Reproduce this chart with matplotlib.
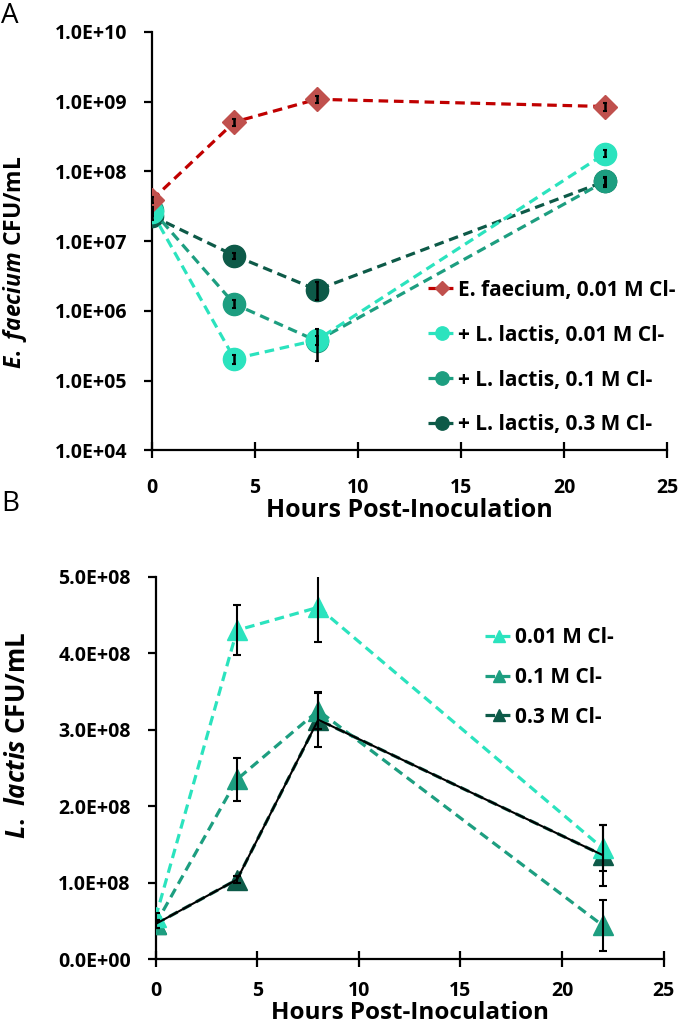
import numpy as np
import matplotlib
matplotlib.use("Agg")
import matplotlib.pyplot as plt

plt.rcParams['font.family'] = ['Open Sans', 'DejaVu Sans']
plt.rcParams['mathtext.fontset'] = 'custom'
plt.rcParams['mathtext.it'] = 'Open Sans:italic:bold'
plt.rcParams['mathtext.rm'] = 'Open Sans:bold'

hours = [0, 4, 8, 22]

# panel A: E. faecium CFU/mL (log scale)
ef_alone = [3.9e7, 5.1e8, 1.08e9, 8.5e8]
ef_alone_err = [4e6, 6e7, 1.3e8, 1.1e8]
ef_ll_001 = [2.6e7, 2.05e5, 3.8e5, 1.8e8]
ef_ll_001_err = [3e6, 3e4, 6e4, 2.2e7]
ef_ll_01 = [2.8e7, 1.25e6, 3.7e5, 7.2e7]
ef_ll_01_err = [3e6, 1.6e5, 1.8e5, 9e6]
ef_ll_03 = [2.3e7, 6.2e6, 2.0e6, 7.2e7]
ef_ll_03_err = [3e6, 6e5, 5.5e5, 1.2e7]
labels_a = ["E. faecium, 0.01 M Cl-", "+ L. lactis, 0.01 M Cl-",
            "+ L. lactis, 0.1 M Cl-", "+ L. lactis, 0.3 M Cl-"]
yticks_a = [1e4, 1e5, 1e6, 1e7, 1e8, 1e9, 1e10]
yticklabels_a = ["1.0E+04", "1.0E+05", "1.0E+06", "1.0E+07", "1.0E+08", "1.0E+09", "1.0E+10"]

# panel B: L. lactis CFU/mL
ll_001 = [5.5e7, 4.3e8, 4.6e8, 1.45e8]
ll_001_err = [5e6, 3.3e7, 4.6e7, 3e7]
ll_01 = [4.6e7, 2.35e8, 3.25e8, 4.4e7]
ll_01_err = [5e6, 2.8e7, 2.4e7, 3.3e7]
ll_03 = [4.6e7, 1.04e8, 3.13e8, 1.36e8]
ll_03_err = [5e6, 5e6, 3.5e7, 4e7]
labels_b = ["0.01 M Cl-", "0.1 M Cl-", "0.3 M Cl-"]
yticks_b = [0, 1e8, 2e8, 3e8, 4e8, 5e8]
yticklabels_b = ["0.0E+00", "1.0E+08", "2.0E+08", "3.0E+08", "4.0E+08", "5.0E+08"]
xticks = [0, 5, 10, 15, 20, 25]

c_red_line = '#C00000'
c_red_mark = '#C0504D'
c_light = '#2BE3BE'
c_mid = '#1D9E80'
c_dark = '#0D5A48'

fig = plt.figure(figsize=(6.8, 10.28), dpi=100)
axA = fig.add_axes([0.2235, 0.562, 0.7575, 0.407])
axB = fig.add_axes([0.229, 0.067, 0.747, 0.372])

def style_axis(ax, xpad=14):
    for s in ['top', 'right']:
        ax.spines[s].set_visible(False)
    for s in ['left', 'bottom']:
        ax.spines[s].set_linewidth(1.6)
    ax.tick_params(axis='y', direction='out', length=6, width=1.6, pad=12, labelsize=14)
    ax.tick_params(axis='x', direction='inout', length=12, width=1.6, pad=xpad, labelsize=14)
    ax.tick_params(which='minor', length=0)
    for lab in ax.get_xticklabels() + ax.get_yticklabels():
        lab.set_fontweight('bold')

dash = (3, 1.8)

# ---- Panel A
series_a = [(ef_alone, ef_alone_err, c_red_line, c_red_mark, 'D', 12.5),
            (ef_ll_001, ef_ll_001_err, c_light, c_light, 'o', 16),
            (ef_ll_01, ef_ll_01_err, c_mid, c_mid, 'o', 16),
            (ef_ll_03, ef_ll_03_err, c_dark, c_dark, 'o', 16)]
order = [3, 2, 1, 0]
for i in order:
    y, e, lc, mc, m, ms = series_a[i]
    axA.plot(hours, y, color=lc, lw=2.3, dashes=dash, marker=m, markersize=ms,
             markerfacecolor=mc, markeredgecolor=mc, label=labels_a[i], zorder=3 + (3 - i) * 0.1)
    axA.errorbar(hours, y, yerr=e, fmt='none', ecolor='black', elinewidth=1.8,
                 capsize=1.5, capthick=1.5, zorder=5)
axA.set_yscale('log')
axA.set_ylim(1e4, 1e10)
axA.set_xlim(0, 25)
axA.set_yticks(yticks_a)
axA.set_yticklabels(yticklabels_a)
axA.set_xticks(xticks)
style_axis(axA)
axA.set_xlabel("Hours Post-Inoculation", fontsize=18, fontweight='bold', labelpad=0)
axA.set_ylabel(r"$\mathit{E.\ faecium}$ CFU/mL", fontsize=16.5, fontweight='bold')
axA.yaxis.set_label_coords(-0.238, 0.45)
h, l = axA.get_legend_handles_labels()
h = [h[l.index(t)] for t in labels_a]
legA = axA.legend(h, labels_a, loc='upper left', bbox_to_anchor=(0.629, 0.728),
                  bbox_transform=fig.transFigure, frameon=False, fontsize=15,
                  handlelength=1.35, handletextpad=0.1, labelspacing=1.15,
                  borderpad=0, borderaxespad=0, markerscale=0.6)
for t in legA.get_texts():
    t.set_fontweight('bold')

# ---- Panel B
series_b = [(ll_001, ll_001_err, c_light), (ll_01, ll_01_err, c_mid), (ll_03, ll_03_err, c_dark)]
for i in [2, 1, 0]:
    y, e, c = series_b[i]
    axB.plot(hours, y, color=c, lw=2.3, dashes=dash, marker='^', markersize=15,
             markerfacecolor=c, markeredgecolor=c, label=labels_b[i], zorder=3 + (2 - i) * 0.1)
    axB.errorbar(hours, y, yerr=e, fmt='none', ecolor='black', elinewidth=1.5,
                 capsize=3, capthick=1.5, zorder=5)
axB.plot(hours, ll_03, color='black', lw=1.5, zorder=4)
axB.set_ylim(0, 5e8)
axB.set_xlim(0, 25)
axB.set_yticks(yticks_b)
axB.set_yticklabels(yticklabels_b)
axB.set_xticks(xticks)
style_axis(axB, xpad=10)
axB.set_xlabel("Hours Post-Inoculation", fontsize=17.5, fontweight='bold', labelpad=0)
axB.set_ylabel(r"$\mathit{L.\ lactis}$ CFU/mL", fontsize=18.5, fontweight='bold')
axB.yaxis.set_label_coords(-0.245, 0.586)
h, l = axB.get_legend_handles_labels()
h = [h[l.index(t)] for t in labels_b]
legB = axB.legend(h, labels_b, loc='upper left', bbox_to_anchor=(0.713, 0.390),
                  bbox_transform=fig.transFigure, frameon=False, fontsize=15,
                  handlelength=1.35, handletextpad=0.1, labelspacing=0.9,
                  borderpad=0, borderaxespad=0, markerscale=0.6)
for t in legB.get_texts():
    t.set_fontweight('bold')

fig.text(0.002, 0.998, "A", fontsize=20, va='top', ha='left')
fig.text(0.002, 0.523, "B", fontsize=20, va='top', ha='left')

fig.savefig("out.png", dpi=100)
